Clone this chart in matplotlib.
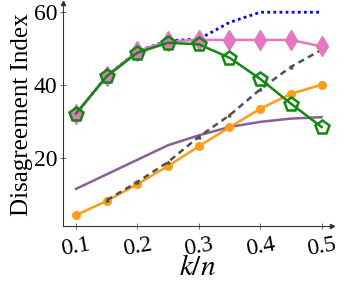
import numpy as np
import matplotlib
matplotlib.use("Agg")
import matplotlib.pyplot as plt

# DATA
k_n = [0.1, 0.15, 0.2, 0.25, 0.3, 0.35, 0.4, 0.45, 0.5]
purple_vals = [11.5, 15.5, 19.5, 23.5, 26.2, 28.5, 29.9, 30.8, 31.2]
orange_vals = [4.3, 8.2, 12.8, 17.8, 23.2, 28.4, 33.5, 37.6, 40.1]
dashed_x = [0.15, 0.2, 0.25, 0.3, 0.35, 0.4, 0.45, 0.5]
dashed_vals = [8.4, 13.4, 18.9, 25.8, 31.7, 38.8, 45.0, 49.7]
blue_vals = [32.0, 42.5, 49.3, 52.2, 52.6, 57.2, 60.0, 60.0, 60.0]
pink_vals = [32.0, 42.5, 49.3, 52.0, 52.4, 52.4, 52.4, 52.4, 50.6]
green_vals = [32.2, 42.4, 48.9, 51.6, 51.2, 47.5, 41.7, 34.9, 28.5]

x_ticks = [0.1, 0.2, 0.3, 0.4, 0.5]
y_ticks = [20, 40, 60]

plt.rcParams['font.family'] = ['Liberation Serif', 'DejaVu Serif']
plt.rcParams['mathtext.fontset'] = 'stix'

fig = plt.figure(figsize=(3.43, 2.84), dpi=100)
ax = fig.add_axes([0.184, 0.204, 0.784, 0.785])

# lines, back to front
ax.plot(k_n, purple_vals, color='#8b5e96', lw=1.8)
ax.plot(k_n, orange_vals, color='#ff9c1a', lw=1.8, marker='o', ms=5.5)
ax.plot(dashed_x, dashed_vals, color='#505050', lw=1.8, ls=(0, (2.5, 1.8)),
        marker='^', ms=2)
ax.plot(k_n, blue_vals, color='#0000ff', lw=2, ls=(0, (1, 1.2)))
ax.plot(k_n, pink_vals, color='#e377c2', lw=1.8, marker='d', ms=10)
ax.plot(k_n, green_vals, color='#118811', lw=1.8, marker='p', ms=10.5,
        mfc='none', mew=1.8)

ax.set_xlim(0.079, 0.517)
ax.set_ylim(1.3, 62.5)
ax.set_xticks(x_ticks)
ax.set_xticklabels([str(v) for v in x_ticks], rotation=10)
ax.set_yticks(y_ticks)

for s in ['top', 'right']:
    ax.spines[s].set_visible(False)
for s in ['left', 'bottom']:
    ax.spines[s].set_color('#333333')
    ax.spines[s].set_linewidth(0.8)
ax.tick_params(direction='inout', length=4, width=0.6, color='#555555',
               labelsize=17, pad=2)
ax.tick_params(axis='x', pad=4)

# arrow heads at the end of the axes
ax.plot(1, 0, '>', color='#333333', ms=3, transform=ax.transAxes, clip_on=False)
ax.plot(0, 1, '^', color='#333333', ms=3, transform=ax.transAxes, clip_on=False)

ax.set_xlabel('$k/n$', fontsize=21, labelpad=-4)
ax.set_ylabel('Disagreement Index', fontsize=18, labelpad=1)

fig.savefig('out.png', dpi=100)
